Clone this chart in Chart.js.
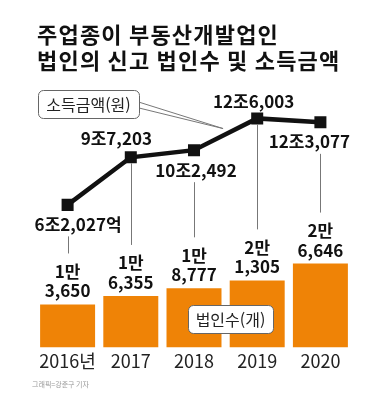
<!DOCTYPE html>
<html lang="ko">
<head>
  <meta charset="UTF-8" />
  <title>부동산개발업 법인 신고</title>
  <script src="https://cdn.jsdelivr.net/npm/chart.js"></script>
  <style>
    html, body { margin: 0; padding: 0; background: #fff; }
    #wrap { width: 392px; height: 402px; position: relative; }
  </style>
</head>
<body>
  <div id="wrap"><canvas id="chart"></canvas></div>

  <script>
    // 데이터
    const years = ['2016년', '2017', '2018', '2019', '2020'];
    const corpCount = [13650, 16355, 18777, 21305, 26646];          // 법인수(개)
    const incomeJo = [6.2027, 9.7203, 10.2492, 12.6003, 12.3077];    // 소득금액(조원)
    const incomeLabels = ['6조2,027억', '9조7,203', '10조2,492', '12조6,003', '12조3,077'];

    const FONT = "'Noto Sans CJK KR', 'Noto Sans', sans-serif";
    const ORANGE = '#EF8306';

    // 소득금액 라벨 위치 (점 기준)
    const incDx = [10.5, -14.5, 2, -3.5, -11];
    const incDy = [19.5, -18.5, 20, -17, 19.5];

    function manLabel(v) {
      const man = Math.floor(v / 10000);
      const rest = (v % 10000).toLocaleString('en-US');
      return [man + '만', rest];
    }

    const decor = {
      id: 'decor',
      afterDatasetsDraw(chart) {
        const ctx = chart.ctx;
        const bars = chart.getDatasetMeta(1).data;
        const pts = chart.getDatasetMeta(0).data;
        ctx.save();

        // 제목
        ctx.fillStyle = '#111';
        ctx.font = 'bold 22px ' + FONT;
        ctx.letterSpacing = '1.2px';
        ctx.textAlign = 'left';
        ctx.textBaseline = 'middle';
        ctx.fillText('주업종이 부동산개발업인', 37, 35);
        ctx.fillText('법인의 신고 법인수 및 소득금액', 37, 61);
        ctx.letterSpacing = '0px';

        // 보조선
        ctx.strokeStyle = '#777';
        ctx.lineWidth = 1;
        pts.forEach((p, i) => {
          const b = bars[i];
          const y0 = incDy[i] > 0 ? p.y + incDy[i] + 12 : p.y + 6;
          const y1 = b.y - 51;
          ctx.beginPath();
          ctx.moveTo(Math.round(p.x) + 0.5, y0);
          ctx.lineTo(Math.round(p.x) + 0.5, y1);
          ctx.stroke();
        });

        // 법인수 라벨
        ctx.fillStyle = '#111';
        ctx.font = 'bold 17px ' + FONT;
        ctx.textAlign = 'center';
        bars.forEach((b, i) => {
          const [a, c] = manLabel(corpCount[i]);
          ctx.fillText(a, b.x, b.y - 33);
          ctx.fillText(c, b.x, b.y - 13.5);
        });

        // 소득금액 라벨
        pts.forEach((p, i) => {
          ctx.fillText(incomeLabels[i], p.x + incDx[i], p.y + incDy[i]);
        });

        // 소득금액(원) 말풍선
        const p2 = pts[2], p3 = pts[3];
        const t = 0.46;
        const tipX = p2.x + (p3.x - p2.x) * t;
        const tipY = p2.y + (p3.y - p2.y) * t - 7;
        ctx.fillStyle = '#fff';
        ctx.strokeStyle = '#777';
        ctx.beginPath();
        ctx.moveTo(137, 101.5);
        ctx.lineTo(tipX, tipY);
        ctx.lineTo(137, 107.5);
        ctx.closePath();
        ctx.fill();
        ctx.stroke();

        function box(x, y, w, h, text) {
          ctx.beginPath();
          ctx.roundRect(x + 0.5, y + 0.5, w, h, 5);
          ctx.fillStyle = '#fff';
          ctx.fill();
          ctx.strokeStyle = '#666';
          ctx.stroke();
          ctx.fillStyle = '#222';
          ctx.font = '16px ' + FONT;
          ctx.textAlign = 'center';
          ctx.fillText(text, x + w / 2, y + h / 2 + 1);
        }
        box(38, 90, 101, 28, '소득금액(원)');
        box(188, 305, 85, 28, '법인수(개)');

        // 출처
        ctx.fillStyle = '#999';
        ctx.font = '7px ' + FONT;
        ctx.textAlign = 'left';
        ctx.fillText('그래픽=강준구 기자', 32, 384);

        ctx.restore();
      }
    };

    new Chart(document.getElementById('chart'), {
      data: {
        labels: years,
        datasets: [{
          type: 'line',
          label: '소득금액(원)',
          data: incomeJo,
          yAxisID: 'y1',
          borderColor: '#111',
          borderWidth: 4.5,
          pointStyle: 'rect',
          pointRadius: 8.5,
          pointBackgroundColor: '#111',
          pointBorderWidth: 0,
          tension: 0,
          order: 0
        }, {
          type: 'bar',
          label: '법인수(개)',
          data: corpCount,
          yAxisID: 'y',
          backgroundColor: ORANGE,
          barPercentage: 0.87,
          categoryPercentage: 1,
          order: 1
        }]
      },
      options: {
        responsive: true,
        maintainAspectRatio: false,
        animation: false,
        layout: { padding: { top: 80, left: 36, right: 40, bottom: 27 } },
        plugins: {
          legend: { display: false },
          tooltip: { enabled: false }
        },
        scales: {
          x: {
            grid: { display: false, drawTicks: false },
            border: { display: false },
            ticks: { color: '#222', font: { family: FONT, size: 18 }, padding: 3 }
          },
          y: { display: false, min: 0, max: 85000 },
          y1: { display: false, min: -4.34, max: 15.44 }
        }
      },
      plugins: [decor]
    });
  </script>
</body>
</html>
